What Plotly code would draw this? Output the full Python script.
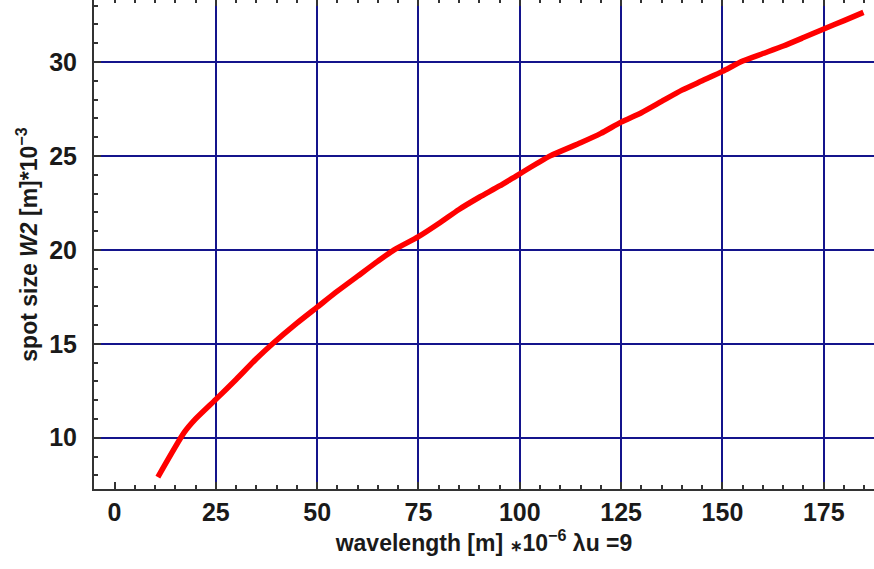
import plotly.graph_objects as go

# valores
comprimento_onda = [10.7, 17.2, 20, 25, 30, 35, 39, 45, 50, 55, 60, 65, 69, 75, 80, 85, 90,
                    95, 100, 107.5, 115, 120, 125, 130, 135, 140, 145, 150, 155, 160, 165,
                    170, 175, 180, 184.8]
tamanho_spot = [7.9, 10.28, 11.0, 12.04, 13.1, 14.2, 15.0, 16.1, 16.95, 17.8, 18.6, 19.4, 20.0,
                20.7, 21.4, 22.15, 22.8, 23.4, 24.05, 25.0, 25.7, 26.2, 26.8, 27.3, 27.9,
                28.5, 29.0, 29.5, 30.05, 30.45, 30.85, 31.3, 31.76, 32.2, 32.64]

ticks_x = [0, 25, 50, 75, 100, 125, 150, 175]
grade_x = [25, 50, 75, 100, 125, 150, 175]
ticks_y = [10, 15, 20, 25, 30]

CORES = {"curva": "#FF0000", "grade": "#14148C", "eixo": "#333333", "texto": "#1a1a1a"}
FONTE = "Liberation Sans, Arial, sans-serif"

fig = go.Figure()
fig.add_trace(go.Scatter(x=comprimento_onda, y=tamanho_spot, mode="lines",
                         line=dict(color=CORES["curva"], width=5.5, shape="spline", smoothing=0.6),
                         showlegend=False, hoverinfo="skip"))

fig.update_layout(
    width=874, height=569,
    margin=dict(l=94, r=0, t=0, b=80),
    plot_bgcolor="white", paper_bgcolor="white",
    font=dict(family=FONTE, color=CORES["texto"]),
    xaxis=dict(
        range=[-5.06, 187.4], tickvals=ticks_x, showgrid=False, zeroline=False,
        automargin=False,
        showline=True, linecolor=CORES["eixo"], linewidth=2,
        ticks="inside", ticklen=7, tickwidth=2, tickcolor=CORES["eixo"],
        minor=dict(dtick=5, tick0=0, ticks="inside", ticklen=4, tickwidth=1.5,
                   tickcolor=CORES["eixo"], showgrid=False),
        tickfont=dict(size=25, family=FONTE, weight="bold"),
        ticklabelstandoff=0,
        title=dict(text="wavelength [m] <span style='font-size:15px'>∗</span>10<sup>−6</sup> λu =9",
                   font=dict(size=23, family=FONTE, weight="bold"), standoff=8),
    ),
    xaxis2=dict(
        overlaying="x", matches="x", side="top", anchor="y", automargin=False,
        tickvals=grade_x, showticklabels=False, showline=False, zeroline=False,
        showgrid=True, gridcolor=CORES["grade"], gridwidth=1.6,
        ticks="inside", ticklen=6, tickwidth=2, tickcolor=CORES["eixo"],
        minor=dict(dtick=5, tick0=0, ticks="inside", ticklen=3, tickwidth=1.5,
                   tickcolor=CORES["eixo"], showgrid=False),
    ),
    yaxis=dict(
        range=[7.27, 33.3], tickvals=ticks_y, zeroline=False, automargin=False,
        showgrid=True, gridcolor=CORES["grade"], gridwidth=1.6,
        showline=True, linecolor=CORES["eixo"], linewidth=2,
        ticks="inside", ticklen=7, tickwidth=2, tickcolor=CORES["eixo"],
        minor=dict(dtick=1, tick0=0, ticks="inside", ticklen=4, tickwidth=1.5,
                   tickcolor=CORES["eixo"], showgrid=False),
        tickfont=dict(size=25, family=FONTE, weight="bold"),
        ticklabelstandoff=10,
        title=dict(text="spot size <i>W2</i> [m]*10<sup>−3</sup>",
                   font=dict(size=23, family=FONTE, weight="bold"), standoff=5),
    ),
)
# eixo do topo só com marcas (sem linha), como no original
fig.add_trace(go.Scatter(x=comprimento_onda, y=tamanho_spot, xaxis="x2", mode="lines",
                         line=dict(width=0), showlegend=False, hoverinfo="skip"))

fig.write_html("out.html", config={"displayModeBar": False},
               post_script="document.body.style.margin='0';")
